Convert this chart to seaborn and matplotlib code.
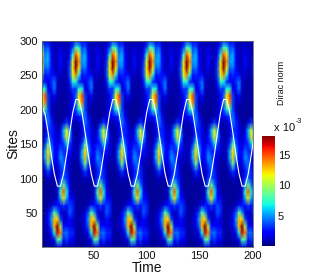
import numpy as np
import matplotlib
matplotlib.use("Agg")
import matplotlib.pyplot as plt
import seaborn as sns

# one cycle of the norm (x 1e-3), rows are sites 300 -> 0, columns are time steps
CYCLE = [
    [2.5, 1.5, 2, 1, .8, .8, .8, .8, .8, 1, 1.5, 3],
    [7, 3.5, 4, 1.5, 1, 1, 1.5, 1, 1, 1.5, 3.5, 8],
    [12, 4.5, 5.5, 2, 1, 1, 2, 1.2, 1, 2, 7, 15],
    [14, 5, 5.5, 2.5, 1, 1, 2.5, 1.2, 1, 3, 11, 18],
    [12, 4, 4.5, 2.5, 1, 1, 2, 1, 1, 3.5, 12, 18],
    [7, 2.5, 3, 2.5, 2.5, 1, 1.2, .8, .8, 3.5, 11, 14],
    [3, 2.5, 1.5, 3, 4.5, 1.2, .8, .7, .7, 2.5, 7, 7],
    [7, 7, 1.5, 2, 4.5, 1, .7, .7, .7, 1.5, 3.5, 3],
    [12, 15, 3.5, 1.2, 2.5, .8, .7, .7, .7, 1, 2, 4],
    [11, 14, 3.5, 1, 1.2, .7, .6, .6, .7, 1, 2, 4],
    [7, 8, 3.5, 1, .6, .5, .5, .5, .7, 1, 2, 3.5],
    [2.5, 3.5, 4.5, 2, .8, .5, .5, .5, .8, 1.5, 2, 2],
    [1, 2, 4.5, 3, 1.2, .6, .6, 1.5, 3.5, 2, 1, .8],
    [.8, 1.5, 3, 3, 2, .8, 1.5, 5.5, 11, 5, 1.2, .6],
    [.8, 1.5, 4, 3, 2, 1, 2, 5, 12, 5.5, 1.5, .6],
    [1, 3, 8, 4, 2, 1.5, 2.5, 3, 6.5, 3.5, 1.5, .8],
    [1.2, 5, 12, 5.5, 2.5, 2, 4, 3, 3, 2.5, 1.5, .8],
    [1.2, 5.5, 13, 5.5, 2, 2, 5, 4, 2, 1.5, 1, .8],
    [.8, 3.5, 9, 3.5, 1.5, 1.5, 3.5, 4.5, 2.5, 1, .8, .6],
    [.6, 1.5, 3.5, 2, 1, 1, 2.5, 4, 3, 1, .6, .5],
    [.5, .8, 1.2, 1, .8, 1, 3, 4, 3, 1.5, .6, .5],
    [.5, .5, .6, .6, .6, 1.2, 4.5, 9, 4.5, 1.5, .6, .5],
    [.5, .5, .6, .6, .6, 1.5, 8, 15, 7, 2, .8, .5],
    [.5, .5, .6, .6, .8, 1.2, 5.5, 12, 5.5, 2.5, 2, .6],
    [.5, .5, .7, 1, 2.5, 2.5, 2.5, 3.5, 2.5, 3.5, 3, .8],
    [.5, .8, 1.5, 3.5, 8, 5, 1.5, 1.2, 1.5, 4, 3, .8],
    [.6, 1, 2, 5, 13, 12, 3.5, 1.2, 1.2, 2.5, 1.5, .8],
    [.6, 1, 1.5, 4, 13, 18, 10, 2.5, 2, 2, 1.5, 1],
    [.6, .8, 1, 2, 7, 17, 14, 4, 4.5, 3, 3, 1],
    [.5, .6, .8, 1, 2, 8, 8, 2.5, 3.5, 2, 2, .8],
    [.4, .4, .5, .5, .6, 1.5, 2, .8, .8, .7, .7, .5],
]
N_STEPS = 70
TIME_STEP = 2.91

# white curve, site of the mean position at each time step
CURVE = [
    205, 194, 167, 135, 107, 89, 89, 107, 135, 167, 196, 215,
    215, 196, 167, 135, 107, 89, 89, 107, 135, 167, 196, 215,
    215, 196, 167, 135, 107, 89, 89, 107, 135, 167, 196, 215,
    215, 196, 167, 135, 107, 89, 89, 107, 135, 167, 196, 215,
    215, 196, 167, 135, 107, 89, 89, 107, 135, 167, 196, 215,
    215, 196, 167, 135, 107, 89, 89, 107, 135, 167,
]

X_TICKS = [50, 100, 150, 200]
Y_TICKS = [50, 100, 150, 200, 250, 300]
CBAR_TICKS = [5, 10, 15]

W, H = 324, 277


def box(left, top, right, bottom):
    return [left / W, 1 - bottom / H, (right - left) / W, (bottom - top) / H]


def main():
    sns.set_theme(style="ticks")
    plt.rcParams["font.family"] = ["Liberation Sans", "DejaVu Sans"]

    fig = plt.figure(figsize=(W / 100, H / 100), dpi=100)
    pos = box(42, 41, 252.5, 246.7)
    ax = fig.add_axes(pos)
    cax = fig.add_axes(box(262, 135.7, 275, 245.7))

    grid = np.tile(np.array(CYCLE), (1, 6))[:, :N_STEPS]
    sns.heatmap(grid, ax=ax, cbar_ax=cax, cmap="jet", vmin=0.05, vmax=18.2,
                shading="gouraud", xticklabels=False, yticklabels=False)
    ax.set_xlim(0, 199 / TIME_STEP)
    ax.set_ylim(30, 0)

    # real axes on top of the heatmap for the curve and the ticks
    top = fig.add_axes(pos)
    top.patch.set_visible(False)
    times = 1 + TIME_STEP * np.arange(len(CURVE))
    sns.lineplot(x=times, y=CURVE, color="white", linewidth=0.8, ax=top)
    top.set_xlim(1, 200)
    top.set_ylim(1, 300)
    top.set_xticks(X_TICKS)
    top.set_yticks(Y_TICKS)
    top.tick_params(labelsize=8, length=2, width=0.4, color="#333333", direction="in",
                    labelcolor="#111111", pad=3)
    top.set_xlabel("Time", fontsize=10, color="#111111", labelpad=0)
    top.set_ylabel("Sites", fontsize=10, color="#111111", labelpad=-1)
    for spine in top.spines.values():
        spine.set_visible(True)
        spine.set_linewidth(0.6)
        spine.set_color("#666666")

    cax.set_yticks(CBAR_TICKS)
    cax.tick_params(labelsize=8, length=0, pad=2, labelcolor="#111111")
    for spine in cax.spines.values():
        spine.set_visible(False)

    fig.text(274.5 / W, 1 - 131 / H, "x 10", fontsize=8, color="#111111", ha="left", va="baseline")
    fig.text(295.5 / W, 1 - 123 / H, "-3", fontsize=5, color="#111111", ha="left", va="baseline")
    fig.text(281 / W, 1 - 83 / H, "Dirac norm", fontsize=6.5, rotation=90, color="#111111",
             ha="center", va="center")

    fig.savefig("out.png", dpi=100)
    plt.close(fig)


if __name__ == "__main__":
    main()
